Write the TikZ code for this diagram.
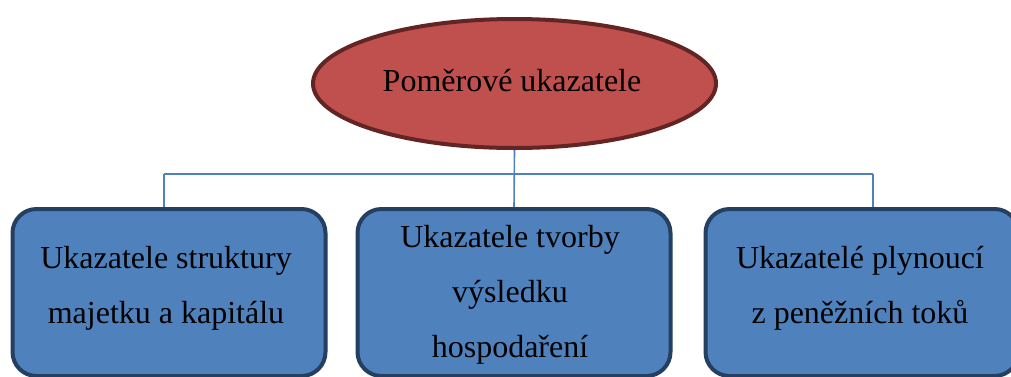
\documentclass[tikz,border=0pt]{standalone}
\usepackage{fontspec}
\setmainfont{Liberation Serif}
\usetikzlibrary{shapes.geometric}
\definecolor{redfill}{HTML}{C0504D}
\definecolor{redline}{HTML}{632523}
\definecolor{bluefill}{HTML}{4F81BD}
\definecolor{blueline}{HTML}{243F60}
\tikzset{
  topell/.style={ellipse, draw=redline, fill=redfill, line width=4pt, inner sep=0pt, minimum width=403pt, minimum height=129pt},
  catbox/.style={draw=blueline, fill=bluefill, line width=4pt, rounded corners=24pt, inner sep=0pt, minimum width=313pt, minimum height=167pt},
  lbl/.style={align=center, inner sep=0pt, font=\fontsize{32}{55}\selectfont},
  conn/.style={draw=bluefill, line width=1.6pt}
}
\begin{document}
\begin{tikzpicture}[x=1pt,y=-1pt]
\useasboundingbox (0,0) rectangle (1011,376);
\node[topell] (top) at (514.5,83.5) {};
\node[lbl, anchor=base] (toptxt) at (512,91) {Poměrové ukazatele};
\node[catbox] (boxL) at (169,292.5) {};
\node[catbox] (boxM) at (514,292.5) {};
\node[catbox] (boxR) at (862,292.5) {};
\node[lbl] (txtL) at (166,288) {Ukazatele struktury\\majetku a kapitálu};
\node[lbl] (txtM) at (510,294.5) {Ukazatele tvorby\\výsledku\\hospodaření};
\node[lbl] (txtR) at (860,288) {Ukazatelé plynoucí\\z peněžních toků};
\coordinate (jl) at (164,174);
\coordinate (jr) at (873,174);
\draw[conn] (jl) -- (jr);
\draw[conn] (top.south) -- (boxM.north);
\draw[conn] (jl) -- (jl |- boxL.north);
\draw[conn] (jr) -- (jr |- boxR.north);
\end{tikzpicture}
\end{document}
